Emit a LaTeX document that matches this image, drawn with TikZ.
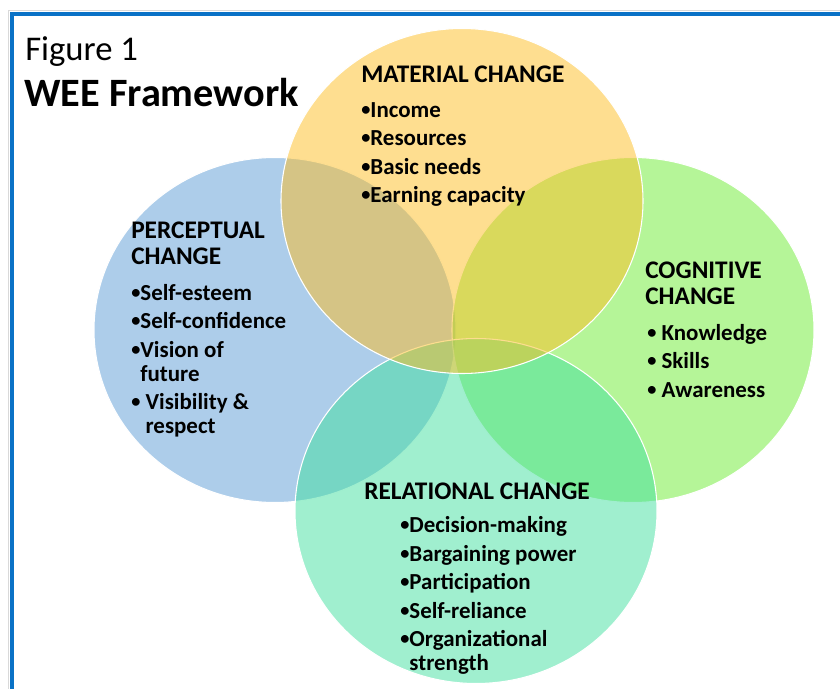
\documentclass[tikz,border=0pt]{standalone}
\usepackage{fontspec}
\setmainfont{Carlito}
\usepackage{tikz}
\usetikzlibrary{positioning,shapes}
\definecolor{percblue}{HTML}{5B9BD5}
\definecolor{cogngreen}{HTML}{6BEB31}
\definecolor{relteal}{HTML}{41DF9F}
\definecolor{matgold}{HTML}{FDBD21}
\definecolor{frameblue}{HTML}{0A72C6}
\newcommand{\blt}{\raisebox{0.09em}{\scalebox{0.8}{•}}}
\tikzset{
	venn/.style={shape=ellipse,draw=white,line width=0.8pt,fill opacity=0.5,minimum width=271.5pt,minimum height=258.75pt,inner sep=0pt},
	head/.style={font=\bfseries\fontsize{19}{19.5}\selectfont,align=left,inner sep=0pt},
	items/.style={font=\bfseries\fontsize{17.2}{18}\selectfont,align=left,inner sep=0pt},
}
\begin{document}
\begin{tikzpicture}[x=0.75pt,y=-0.75pt]
		\useasboundingbox (0,0) rectangle (840,689);
		\draw[black!15,line width=0.75pt] (8,689) -- (8,10) -- (840,10);
		\draw[frameblue,line width=3pt] (12,689) -- (12,13.5) -- (840,13.5);
		\begin{scope}
			\node(perceptual) [venn,fill=percblue] at (275,330) {};
			\node(cognitive) [venn,fill=cogngreen] at (633,330) {};
			\node(relational) [venn,fill=relteal] at (476,511) {};
			\node(material) [venn,fill=matgold] at (462,201) {};
		\end{scope}
		\node(fig) [anchor=base west,inner sep=0pt,font=\fontsize{26}{30}\selectfont] at (25,60) {Figure 1};
		\node(wee) [anchor=base west,inner sep=0pt,font=\bfseries\fontsize{30.2}{32}\selectfont] at (24,106) {WEE Framework};
		\node(mathead) [head,anchor=north west] at (361,66) {MATERIAL CHANGE};
		\node(matitems) [items,below right=14pt and 0pt of mathead.south west] {\blt Income\\[3.4pt]\blt Resources\\[3.4pt]\blt Basic needs\\[3.4pt]\blt Earning capacity};
		\node(perhead) [head,anchor=north west] at (131,222) {PERCEPTUAL\\CHANGE};
		\node(peritems) [items,below right=14pt and 0pt of perhead.south west] {\blt Self-esteem\\[3.4pt]\blt Self-confidence\\[3.4pt]\blt Vision of\\\hphantom{\blt}future\\[3.4pt]\blt\ Visibility \&\\\hphantom{\blt\ }respect};
		\node(coghead) [head,anchor=north west] at (645,262) {COGNITIVE\\CHANGE};
		\node(cogitems) [items,below right=14pt and 1.5pt of coghead.south west] {\blt\ Knowledge\\[3.4pt]\blt\ Skills\\[3.4pt]\blt\ Awareness};
		\node(relhead) [head,anchor=north west] at (364,483) {RELATIONAL CHANGE};
		\node(relitems) [items,below right=12pt and 27pt of relhead.south west] {\blt Decision-making\\[3.4pt]\blt Bargaining power\\[3.4pt]\blt Participation\\[3.4pt]\blt Self-reliance\\[3.4pt]\blt Organizational\\\hphantom{\blt}strength};
	\end{tikzpicture}
\end{document}
